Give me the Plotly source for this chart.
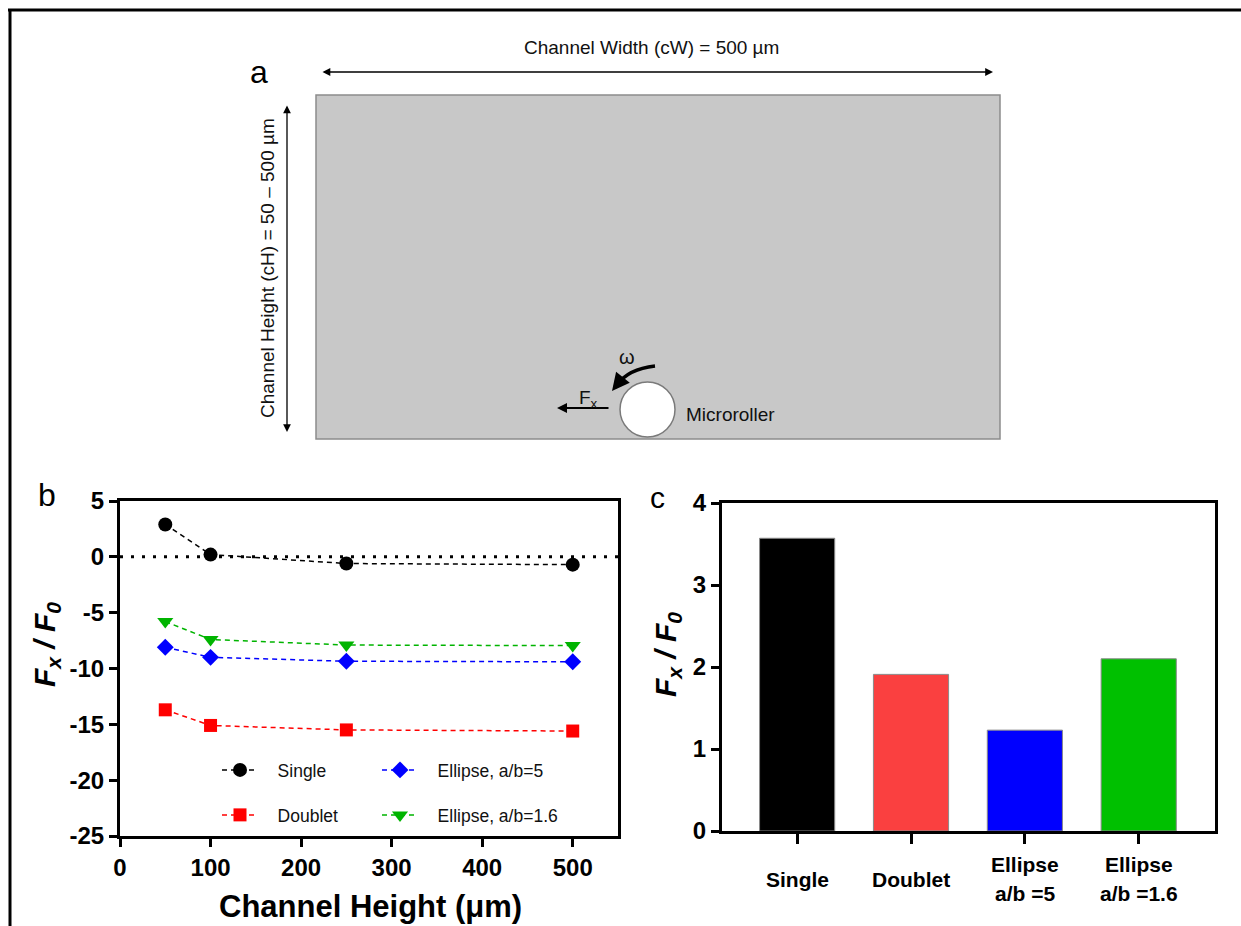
import plotly.graph_objects as go

W, H = 1241, 926

# ---------------- data ----------------
heights = [50, 100, 250, 500]
single = [2.9, 0.2, -0.6, -0.7]
doublet = [-13.7, -15.1, -15.5, -15.6]
ellipse5 = [-8.1, -9.0, -9.35, -9.4]
ellipse16 = [-5.8, -7.4, -7.9, -7.95]

bar_categories = ["Single", "Doublet", "Ellipse\na/b =5", "Ellipse\na/b =1.6"]
bar_values = [3.57, 1.91, 1.23, 2.10]
bar_colors = ["#000000", "#FA4040", "#0000FF", "#00C000"]

b_yticks = [5, 0, -5, -10, -15, -20, -25]
b_ytick_labels = ["5", "0", "-5", "-10", "-15", "-20", "-25"]
b_xticks = [0, 100, 200, 300, 400, 500]
c_yticks = [0, 1, 2, 3, 4]

FONT = "Arial, Liberation Sans, sans-serif"


def X(px):
    return px / W


def Y(py):
    return 1 - py / H


fig = go.Figure()

# ---------------- panel b traces ----------------
# (name, values, colour, symbol, size, legend id, legend px, legend py)
series = [
    ("Single", single, "#000000", "circle", 14, "legend", 217, 770),
    ("Doublet", doublet, "#FF0000", "square", 13, "legend2", 217, 815),
    ("Ellipse, a/b=5", ellipse5, "#0000FF", "diamond", 13, "legend3", 377, 770),
    ("Ellipse, a/b=1.6", ellipse16, "#00B400", "triangle-down", 14, "legend4", 377, 815),
]
for name, vals, col, sym, size, leg, _, _ in series:
    fig.add_trace(go.Scatter(
        x=heights, y=vals, name="\u00a0\u00a0\u00a0" + name, mode="lines+markers",
        line=dict(color=col, width=1.5, dash="5px,4px"),
        marker=dict(symbol=sym, size=size, color=col, line=dict(width=0)),
        xaxis="x", yaxis="y", legend=leg,
    ))

# ---------------- panel c bars ----------------
cat_idx = list(range(len(bar_categories)))
fig.add_trace(go.Bar(
    x=cat_idx, y=bar_values, marker=dict(color=bar_colors, line=dict(color="#8a8a8a", width=1)),
    width=0.66, xaxis="x2", yaxis="y2", showlegend=False,
))

shapes = []
annotations = []

# zero dotted line in panel b
shapes.append(dict(type="line", xref="x domain", yref="y", x0=0, x1=1, y0=0, y1=0,
                   line=dict(color="black", width=3, dash="3px,8px"), layer="below"))

# ---------------- figure frame ----------------
shapes.append(dict(type="line", xref="paper", yref="paper", x0=X(8), x1=X(1241), y0=Y(10), y1=Y(10),
                   line=dict(color="black", width=3)))
shapes.append(dict(type="line", xref="paper", yref="paper", x0=X(10), x1=X(10), y0=Y(9), y1=Y(926),
                   line=dict(color="black", width=3)))

# ---------------- panel a schematic ----------------
shapes.append(dict(type="rect", xref="paper", yref="paper", x0=X(316), x1=X(1000), y0=Y(439), y1=Y(95),
                   fillcolor="#C8C8C8", line=dict(color="#8c8c8c", width=1.5)))
shapes.append(dict(type="circle", xref="paper", yref="paper", x0=X(620), x1=X(675), y0=Y(437), y1=Y(382),
                   fillcolor="white", line=dict(color="#7a7a7a", width=1.5)))
# curved omega arrow
p0 = (655, 366)
pc = (628, 369)
p1 = (617, 385)
shapes.append(dict(type="path", xref="paper", yref="paper",
                   path=f"M {X(p0[0])},{Y(p0[1])} Q {X(pc[0])},{Y(pc[1])} {X(p1[0])},{Y(p1[1])}",
                   line=dict(color="black", width=3.5)))
arrow = dict(xref="paper", yref="paper", axref="pixel", ayref="pixel", showarrow=True,
             arrowcolor="black", text="", arrowhead=2)
annotations.append(dict(arrow, x=X(612), y=Y(391), ax=8, ay=-10, arrowsize=1, arrowwidth=3.5))
# Fx arrow
annotations.append(dict(arrow, x=X(557), y=Y(408), ax=53, ay=0, arrowsize=1, arrowwidth=2))
# horizontal double arrow
annotations.append(dict(arrow, x=X(993), y=Y(72), ax=-672, ay=0, arrowside="end+start",
                        arrowsize=1.2, arrowwidth=1.3))
# vertical double arrow
annotations.append(dict(arrow, x=X(287), y=Y(432), ax=0, ay=-328, arrowside="end+start",
                        arrowsize=1.2, arrowwidth=1.3))


def label(px, py, text, size, weight="normal", color="#111", angle=0, xanchor="center"):
    return dict(xref="paper", yref="paper", x=X(px), y=Y(py), text=text, showarrow=False,
                xanchor=xanchor, yanchor="middle", textangle=angle,
                font=dict(family=FONT, size=size, color=color, weight=weight))


annotations += [
    label(651, 48, "Channel Width (cW) = 500 µm", 19),
    label(268, 268, "Channel Height (cH) = 50 – 500 µm", 19, angle=-90),
    label(684, 414, "Microroller", 19, xanchor="left"),
    label(577, 399, "F<sub>x</sub>", 19, xanchor="left"),
    label(627, 357, "ω", 20),
    label(259, 72, "a", 32, color="black"),
    label(47, 495, "b", 32, color="black"),
    label(657, 497, "c", 30, color="black"),
    label(46, 645, "<i>F<sub>x</sub> / F<sub>0</sub></i>", 30, weight="bold", color="black", angle=-90),
    label(667, 655, "<i>F<sub>x</sub> / F<sub>0</sub></i>", 30, weight="bold", color="black", angle=-90),
    label(371, 906, "Channel Height (μm)", 31, weight="bold", color="black"),
]

# panel c category labels (placed via the x2 category scale)
for i, lab in enumerate(bar_categories):
    lines = lab.split("\n")
    n = len(lines)
    for j, ln in enumerate(lines):
        py = 879 + (j - (n - 1) / 2) * 29
        annotations.append(dict(xref="x2", yref="paper", x=i, y=Y(py), showarrow=False, text=ln,
                                xanchor="center", yanchor="middle",
                                font=dict(family=FONT, size=21, color="black", weight="bold")))

axis_common = dict(showline=True, linecolor="black", linewidth=3, mirror=True, ticks="outside",
                   tickwidth=3, ticklen=8, tickcolor="black", showgrid=False, zeroline=False,
                   automargin=False,
                   tickfont=dict(family=FONT, size=24, color="black", weight="bold"))

legend_common = dict(orientation="h", xanchor="left", yanchor="middle", itemwidth=36,
                     bgcolor="rgba(0,0,0,0)", font=dict(family=FONT, size=17.5, color="#111"))
legends = {}
for _, _, _, _, _, leg, lx, ly in series:
    legends[leg] = dict(legend_common, x=X(lx), y=Y(ly))

fig.update_layout(
    width=W, height=H,
    margin=dict(l=0, r=0, t=0, b=0, pad=0, autoexpand=False),
    paper_bgcolor="white", plot_bgcolor="rgba(0,0,0,0)",
    font=dict(family=FONT, color="black"),
    xaxis=dict(axis_common, domain=[X(120), X(618)], range=[0, 550], tickvals=b_xticks, anchor="y"),
    yaxis=dict(axis_common, domain=[Y(836), Y(501)], range=[-25, 5], tickvals=b_yticks,
               ticktext=b_ytick_labels, anchor="x"),
    xaxis2=dict(axis_common, domain=[X(722), X(1215)], range=[-0.66, 3.67], tickvals=cat_idx,
                showticklabels=False, ticklen=10, anchor="y2"),
    yaxis2=dict(axis_common, domain=[Y(831), Y(503)], range=[0, 4], tickvals=c_yticks, anchor="x2"),
    shapes=shapes,
    annotations=annotations,
    showlegend=True,
    **legends,
)

fig.write_html("out.html")
